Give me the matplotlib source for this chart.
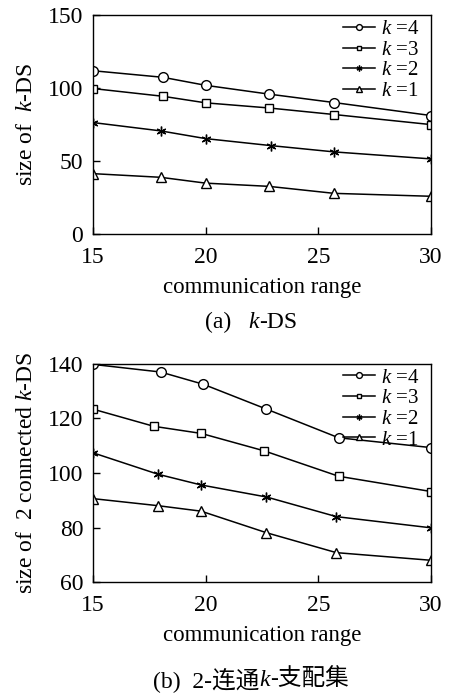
import numpy as np
import matplotlib
matplotlib.use("Agg")
import matplotlib.pyplot as plt

plt.rcParams['font.family'] = ['Liberation Serif', 'Noto Sans CJK SC']
plt.rcParams['mathtext.fontset'] = 'custom'
plt.rcParams['mathtext.it'] = 'Liberation Serif:italic'
plt.rcParams['mathtext.rm'] = 'Liberation Serif'

# (a) k-DS
xa = {
    4: [15, 18.1, 20.0, 22.8, 25.7, 30],
    3: [15, 18.1, 20.0, 22.8, 25.7, 30],
    2: [15, 18.0, 20.0, 22.9, 25.7, 30],
    1: [15, 18.0, 20.0, 22.8, 25.7, 30],
}
ya = {
    4: [112, 107.5, 102, 96, 90.2, 81.3],
    3: [99.8, 94.5, 90, 86.5, 82, 75.1],
    2: [76.5, 70.8, 65.5, 60.7, 56.4, 51.6],
    1: [41.5, 39, 35, 32.8, 28, 26],
}

# (b) 2-connected k-DS
xb = {
    4: [15, 18.0, 19.9, 22.7, 25.9, 30],
    3: [15, 17.7, 19.8, 22.6, 25.9, 30],
    2: [15, 17.9, 19.8, 22.7, 25.8, 30],
    1: [15, 17.9, 19.8, 22.7, 25.8, 30],
}
yb = {
    4: [139.8, 137, 132.5, 123.4, 112.9, 109.3],
    3: [123.4, 117.1, 114.5, 108.1, 98.8, 93.2],
    2: [107.4, 99.5, 95.6, 91.2, 84, 79.9],
    1: [90.6, 88, 86, 78.1, 70.8, 68],
}

ks = [4, 3, 2, 1]
markers = {4: 'o', 3: 's', 2: (6, 2, 0), 1: '^'}
msizes = {4: 7, 3: 5.5, 2: 7, 1: 7}


def draw(ax, xs, ys, ylim, yticks, ylabel):
    for k in ks:
        ax.plot(xs[k], ys[k], color='black', lw=1.1, marker=markers[k],
                ms=msizes[k], mfc='white', mec='black', mew=1.0,
                label=r'$k$ =%d' % k)
    ax.set_xlim(15, 30)
    ax.set_ylim(*ylim)
    ax.set_xticks([15, 20, 25, 30])
    ax.set_yticks(yticks)
    ax.tick_params(direction='in', length=5, width=1, labelsize=17)
    ax.tick_params(axis='x', pad=9)
    ax.tick_params(axis='y', pad=7)
    for s in ax.spines.values():
        s.set_linewidth(1.0)
    ax.set_xlabel('communication range', fontsize=16.5, labelpad=7)
    ax.set_ylabel(ylabel, fontsize=17, labelpad=8)
    ax.legend(loc='upper right', bbox_to_anchor=(0.965, 0.98), frameon=False,
              fontsize=15, markerscale=0.6, handlelength=1.5, handletextpad=0.3,
              labelspacing=0.05, borderaxespad=0.0, borderpad=0.0)


def caption(fig, xc, yc, pieces, size):
    # place text pieces side by side, centred on xc
    r = fig.canvas.get_renderer()
    texts = []
    for s, style in pieces:
        t = fig.text(0, yc, s, fontsize=size, style=style, va='center', ha='left',
                     family=['Liberation Serif', 'Noto Sans CJK SC'])
        texts.append(t)
    widths = [t.get_window_extent(r).width / fig.bbox.width for t in texts]
    x = xc - sum(widths) / 2
    for t, w in zip(texts, widths):
        t.set_x(x)
        x += w


fig = plt.figure(figsize=(4.49, 6.93), dpi=100)
ax1 = fig.add_axes([0.207, 0.662, 0.753, 0.316])
draw(ax1, xa, ya, (0, 150), [0, 50, 100, 150], r'size of  $k$-DS')
caption(fig, 0.559, 1 - 322 / 693, [('(a)   ', 'normal'), ('k', 'italic'), ('-DS', 'normal')], 17)

ax2 = fig.add_axes([0.207, 0.160, 0.753, 0.315])
draw(ax2, xb, yb, (60, 140), [60, 80, 100, 120, 140], r'size of  2 connected $k$-DS')
caption(fig, 0.559, 1 - 680 / 693, [('(b)  2-连通', 'normal'), ('k', 'italic'), ('-支配集', 'normal')], 17)

fig.savefig('out.png', dpi=100)
